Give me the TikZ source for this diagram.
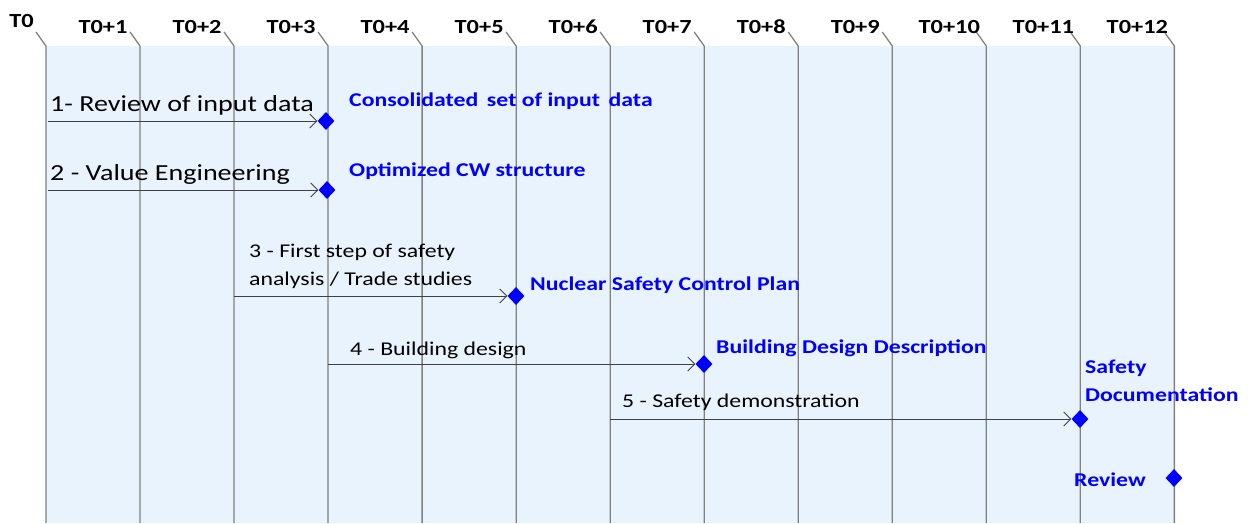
\documentclass[tikz,border=0pt]{standalone}
\usepackage{fontspec}
\setmainfont[FakeStretch=1.22]{Carlito}
\usetikzlibrary{shapes.geometric,arrows.meta}
\definecolor{bgblue}{HTML}{E9F3FD}
\definecolor{gridgray}{HTML}{808080}
\definecolor{msblue}{HTML}{0000FF}
\definecolor{arrgray}{HTML}{404040}
\tikzset{
  tick/.style={draw=gridgray, line width=1.3pt},
  tlabel/.style={font=\bfseries\fontsize{20}{20}\selectfont, anchor=base, inner sep=0pt},
  mile/.style={shape=diamond, fill=msblue, draw=none, minimum width=17pt, minimum height=18pt, inner sep=0pt},
  mlabel/.style={font=\bfseries\fontsize{19.5}{28}\selectfont, text=msblue, anchor=base west, inner sep=0pt, align=left},
  act/.style={draw=arrgray, line width=0.9pt, -{Straight Barb[length=7pt, width=14pt, line width=0.9pt]}},
  alabel/.style={font=\fontsize{19.5}{28}\selectfont, anchor=base west, inner sep=0pt, align=left},
  biglabel/.style={font=\fontsize{23}{26}\selectfont, anchor=base west, inner sep=0pt}
}
\begin{document}
\begin{tikzpicture}[x=1pt,y=-1pt]
\useasboundingbox (0,0) rectangle (1248,523);
\fill[bgblue] (46,46) rectangle (1174,523);
% time lines
\foreach \i in {0,...,12} {
  \pgfmathsetmacro{\xx}{46+94.03*\i}
  \draw[tick] (\xx-10,32) -- (\xx,46) -- (\xx,523);
}
\node[tlabel] (t0) at (21.5,27) {T0};
\foreach \i in {1,...,12} {
  \pgfmathsetmacro{\xx}{46+94.03*\i-37}
  \node[tlabel] (t\i) at (\xx,33) {T0+\i};
}
% milestones
\node[mile] (d1) at (326,121) {};
\node[mile] (d2) at (327,190) {};
\node[mile] (d3) at (516,296) {};
\node[mile] (d4) at (704,364) {};
\node[mile] (d5) at (1080,419) {};
\node[mile] (d6) at (1174,478) {};
% start points
\coordinate (s1) at (48,121);
\coordinate (s2) at (48,190);
\coordinate (s3) at (234,296);
\coordinate (s4) at (328,364);
\coordinate (s5) at (610,419);
\draw[act] (s1) -- (d1.west);
\draw[act] (s2) -- (d2.west);
\draw[act] (s3) -- (d3.west);
\draw[act] (s4) -- (d4.west);
\draw[act] (s5) -- (d5.west);
% activity labels
\node[biglabel] (l1) at (50,111) {1- Review of input data};
\node[biglabel] (l2) at (50,180) {2 - Value Engineering};
\node[alabel] (l3) at (249,285) {3 - First step of safety\\analysis / Trade studies};
\node[alabel] (l4) at (350,355) {4 - Building design};
\node[alabel] (l5) at (622,407) {5 - Safety demonstration};
% milestone labels
\node[mlabel] (m1) at (349,106) {Consolidated\, set of input\, data};
\node[mlabel] (m2) at (349,176) {Optimized CW structure};
\node[mlabel] (m3) at (530,290) {Nuclear Safety Control Plan};
\node[mlabel] (m4) at (716,353) {Building Design Description};
\node[mlabel] (m5) at (1085,401) {Safety\\Documentation};
\node[mlabel] (m6) at (1074,486) {Review};
\end{tikzpicture}
\end{document}
